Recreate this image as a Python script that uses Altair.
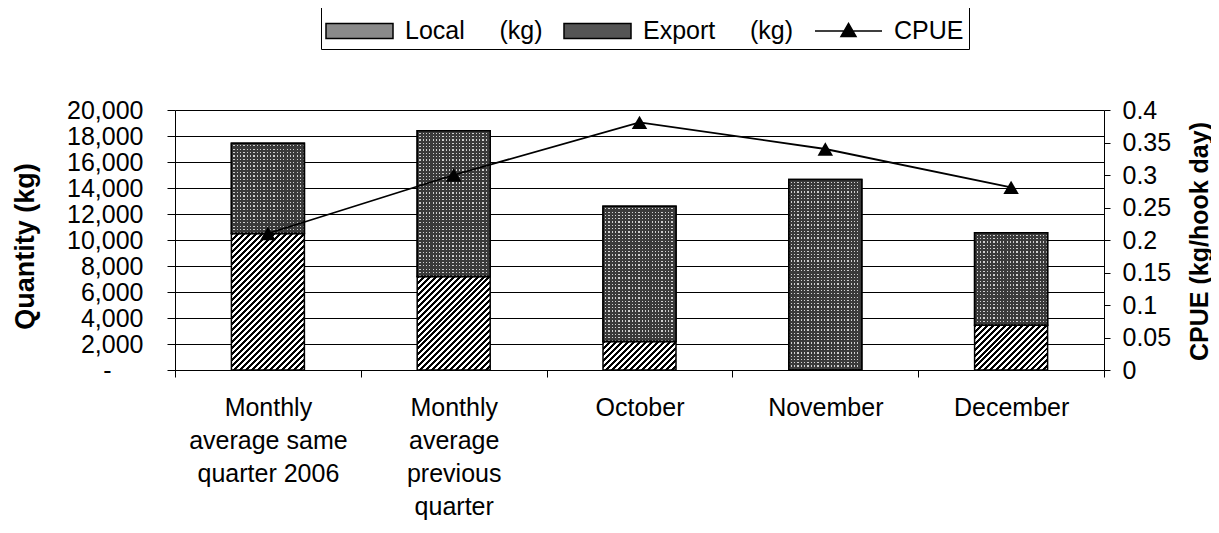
import altair as alt
import pandas as pd

# ---------------- data ----------------
categories = ["Monthly average same quarter 2006", "Monthly average previous quarter",
              "October", "November", "December"]
label_lines = [["Monthly", "average same", "quarter 2006"],
               ["Monthly", "average", "previous", "quarter"],
               ["October"], ["November"], ["December"]]
local_kg = [10500, 7200, 2200, 0, 3450]
export_kg = [6950, 11200, 10400, 14650, 7100]
cpue = [0.21, 0.30, 0.381, 0.34, 0.281]
series = ["Local (kg)", "Export (kg)", "CPUE"]
qty_ticks = [0, 2000, 4000, 6000, 8000, 10000, 12000, 14000, 16000, 18000, 20000]
cpue_ticks = [0, 0.05, 0.1, 0.15, 0.2, 0.25, 0.3, 0.35, 0.4]

df = pd.DataFrame({
    "category": categories,
    "local": local_kg,
    "export": export_kg,
    "cpue": cpue,
})
df["total"] = df["local"] + df["export"]
legend_df = pd.DataFrame({"series": series})

# ---------------- style ----------------
FONT = "Liberation Sans"
NB = "\u00a0"
BLANK = "\u2800"
W, H = 929, 260
BAR_W = 73
QMAX = 20000
DARK = "#3a3a3a"
LIGHT = "#d0d0d0"


def stops_for(n, first, second, frac_first):
    out = []
    for i in range(n):
        a, b, c = i / n, (i + frac_first) / n, (i + 1) / n
        out += [alt.GradientStop(offset=round(a, 5), color=first),
                alt.GradientStop(offset=round(b, 5), color=first),
                alt.GradientStop(offset=round(b, 5), color=second),
                alt.GradientStop(offset=round(c, 5), color=second)]
    return out


def hatch(h_px, w_px=BAR_W, period=6.0):
    """Diagonal black/white hatching at 45 degrees in pixel space."""
    r = h_px / w_px
    k = (1 + r) / (1 + r * r)
    n = max(1, round((w_px + h_px) / period))
    return alt.LinearGradient(gradient="linear", stops=stops_for(n, "#000000", "#ffffff", 0.5),
                              x1=0, y1=0, x2=round(k, 5), y2=round(k * r, 5))


def dot_columns(w_px=BAR_W, period=3.3):
    n = max(1, round(w_px / period))
    return alt.LinearGradient(gradient="linear", stops=stops_for(n, DARK, LIGHT, 0.62),
                              x1=0, y1=0, x2=1, y2=0)


def dot_rows(h_px, period=3.3):
    n = max(1, round(h_px / period))
    return alt.LinearGradient(gradient="linear",
                              stops=stops_for(n, DARK, "rgba(0,0,0,0)", 0.62),
                              x1=0, y1=0, x2=0, y2=1)


def js_arr(lines):
    return "[" + ",".join("'" + s + "'" for s in lines) + "]"


x_expr = "datum.label"
for cat, lines in reversed(list(zip(categories, label_lines))):
    x_expr = f"datum.label == '{cat}' ? {js_arr(lines)} : ({x_expr})"

x_axis = alt.Axis(title=None, labelExpr=x_expr, labelAngle=0, labelFontSize=25,
                  labelLineHeight=33, labelPadding=18, tickSize=7, tickBand="extent",
                  labelBaseline="top", domainColor="black", tickColor="black",
                  labelColor="black", grid=False)
x_enc = alt.X("category:N", sort=categories,
              scale=alt.Scale(domain=categories, paddingInner=0, paddingOuter=0),
              axis=x_axis)

left_axis = alt.Axis(title="Quantity (kg)", values=qty_ticks,
                     labelExpr=f"datum.value == 0 ? '-{NB * 2}{BLANK}' : format(datum.value, ',')",
                     tickSize=8, labelPadding=24, labelFontSize=25, labelColor="black",
                     domainColor="black", tickColor="black", grid=True,
                     gridColor="black", gridWidth=1, gridOpacity=1,
                     titleFontSize=27, titleFontWeight="bold", titleColor="black",
                     titleAngle=270, titleX=-150, titleY=136,
                     titleBaseline="middle", titleAlign="center")
q_scale = alt.Scale(domain=[0, QMAX], nice=False, zero=True)

right_axis = alt.Axis(title="CPUE (kg/hook day)", orient="right", values=cpue_ticks,
                      format=".2~f", tickSize=6, labelPadding=12, labelFontSize=25,
                      labelColor="black", domainColor="black", tickColor="black",
                      grid=False, titleFontSize=25, titleFontWeight="bold",
                      titleColor="black", titleAngle=270, titleX=95, titleY=131,
                      titleBaseline="middle", titleAlign="center")
c_scale = alt.Scale(domain=[0, 0.4], nice=False, zero=True)

# ---------------- bars ----------------
bar_layers = []
# local (hatched)
for cat, loc in zip(categories, local_kg):
    if loc <= 0:
        continue
    h_px = loc / QMAX * H
    bar_layers.append(
        alt.Chart(df).transform_filter(alt.datum.category == cat)
        .mark_bar(size=BAR_W, fill=hatch(h_px), stroke="black", strokeWidth=1.5)
        .encode(x=x_enc, y=alt.Y("local:Q", scale=q_scale, axis=left_axis))
    )
# export (dotted): light columns, then dark rows on top leave light dots
bar_layers.append(
    alt.Chart(df)
    .mark_bar(size=BAR_W, fill=dot_columns(), stroke="black", strokeWidth=1.5)
    .encode(x=x_enc, y=alt.Y("total:Q", scale=q_scale, axis=left_axis), y2="local:Q")
)
for cat, exp in zip(categories, export_kg):
    h_px = exp / QMAX * H
    bar_layers.append(
        alt.Chart(df).transform_filter(alt.datum.category == cat)
        .mark_bar(size=BAR_W, fill=dot_rows(h_px), stroke="black", strokeWidth=1.5)
        .encode(x=x_enc, y=alt.Y("total:Q", scale=q_scale, axis=left_axis), y2="local:Q")
    )
bars = alt.layer(*bar_layers)

# ---------------- CPUE line ----------------
y_c = alt.Y("cpue:Q", scale=c_scale, axis=right_axis)
line = alt.Chart(df).mark_line(color="black", strokeWidth=1.8).encode(x=x_enc, y=y_c)
pts = alt.Chart(df).mark_point(shape="triangle-up", filled=True, fill="black",
                               size=240, opacity=1).encode(x=x_enc, y=y_c)
cpue_layer = alt.layer(line, pts)

# ---------------- legend ----------------
# symbol diameter 38 px -> 1 unit = 19 px; symbol centre sits 20 px into the entry
rect_path = "M-1.053,-0.395H2.474V0.395H-1.053Z"
cpue_path = "M-1.053,0H2.474M0.71,-0.395L1.105,0.29L0.315,0.29Z"
leg = alt.Legend(title=None, orient="none", legendX=146, legendY=-104,
                 direction="horizontal", strokeColor="black",
                 fillColor="white", padding=5, labelFont=FONT, labelFontSize=25,
                 labelColor="black", labelOffset=39, columnPadding=17,
                 symbolSize=1444, symbolStrokeWidth=1.5, symbolOpacity=1,
                 labelExpr=f"replace(datum.label, ' ', '{NB * 5}')")
legend_layer = (
    alt.Chart(legend_df).transform_filter("false")
    .mark_point(filled=True, opacity=1)
    .encode(
        fill=alt.Fill("series:N", scale=alt.Scale(domain=series, range=["#8a8a8a", "#555555", "black"]), legend=leg),
        stroke=alt.Stroke("series:N", scale=alt.Scale(domain=series, range=["black", "black", "black"]), legend=leg),
        shape=alt.Shape("series:N", scale=alt.Scale(domain=series, range=[rect_path, rect_path, cpue_path]), legend=leg),
    )
)

chart = (
    alt.layer(bars, cpue_layer, legend_layer)
    .resolve_scale(y="independent")
    .properties(width=W, height=H,
                padding={"left": 167, "top": 102, "right": 107, "bottom": 151},
                autosize=alt.AutoSizeParams(type="none"))
    .configure_view(stroke=None)
    .configure_axis(labelFont=FONT, titleFont=FONT)
    .configure_legend(labelFont=FONT)
)

chart.save("out.html", embed_options={"renderer": "svg", "actions": False})
